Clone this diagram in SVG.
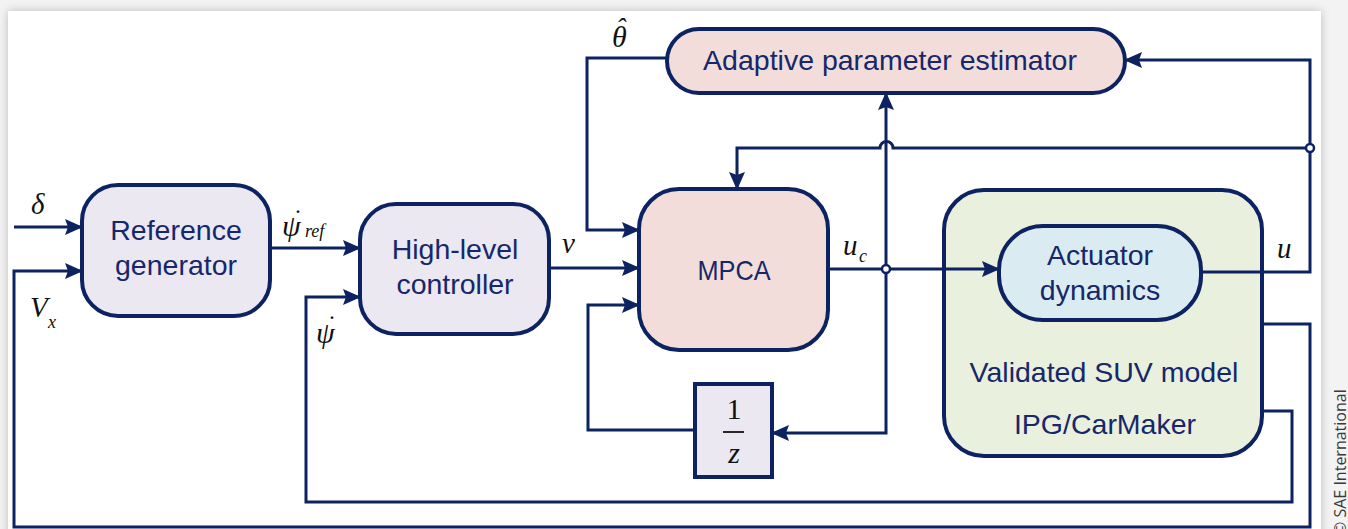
<svg xmlns="http://www.w3.org/2000/svg" width="1348" height="529" viewBox="0 0 1348 529">
<defs>
<filter id="sh" x="-5%" y="-10%" width="110%" height="120%"><feGaussianBlur stdDeviation="5"/></filter>
<marker id="ah" viewBox="0 0 18 16" refX="17" refY="8" markerWidth="18" markerHeight="16" markerUnits="userSpaceOnUse" orient="auto"><path d="M0,0 L18,8 L0,16 L3,8 Z" fill="#0d2261"/></marker>
<style>
.bx{stroke:#0d2261;stroke-width:4}
.ln{fill:none;stroke:#0d2261;stroke-width:3}
.t{font-family:"Liberation Sans",Arial,sans-serif;font-size:28.5px;fill:#16276a;text-anchor:middle}
.m{font-family:"Liberation Serif","Times New Roman",serif;font-style:italic;fill:#111}
.j{fill:#fff;stroke:#0d2261;stroke-width:2.5}
</style>
</defs>
<rect x="0" y="0" width="1348" height="529" fill="#f3f3f3"/>
<rect x="8" y="11" width="1313" height="540" fill="#bbb" filter="url(#sh)"/>
<rect x="8" y="11" width="1313" height="540" fill="#fff"/>
<text transform="translate(1346,529) rotate(-90)" x="-6" y="0" font-family="'Open Sans','Noto Sans',sans-serif" font-size="16" fill="#3a3a3a">© SAE International</text>

<g id="suv">
<rect class="bx" x="944" y="190" width="318" height="266" rx="40" fill="#e9f0de"/>
<text class="t" x="1104" y="382">Validated SUV model</text>
<text class="t" x="1105" y="434">IPG/CarMaker</text>
</g>

<g id="connectors">
<path class="ln" d="M14,227 H82" marker-end="url(#ah)"/>
<path class="ln" d="M1262,324 H1310 V527 H14 V271 H82" marker-end="url(#ah)"/>
<path class="ln" d="M270,248 H360" marker-end="url(#ah)"/>
<path class="ln" d="M1262,411 H1292 V502 H306 V297 H360" marker-end="url(#ah)"/>
<path class="ln" d="M549,268 H639" marker-end="url(#ah)"/>
<path class="ln" d="M667,58 H587 V230 H639" marker-end="url(#ah)"/>
<path class="ln" d="M695,430 H588 V305 H639" marker-end="url(#ah)"/>
<path class="ln" d="M828,269 H999" marker-end="url(#ah)"/>
<path class="ln" d="M886,269 V93" marker-end="url(#ah)"/>
<path class="ln" d="M886,269 V433 H772" marker-end="url(#ah)"/>
<path class="ln" d="M1201,272 H1310 V60 H1125" marker-end="url(#ah)"/>
<path class="ln" d="M1310,148 H893 A6.5,6.5 0 0 0 880,148 H737 V189" marker-end="url(#ah)"/>
<circle class="j" cx="886" cy="269" r="4"/>
<circle class="j" cx="1310" cy="148" r="4"/>
</g>

<g id="reference-generator">
<rect class="bx" x="82" y="185" width="188" height="131" rx="36" fill="#ebe8f2"/>
<text class="t" x="176" y="240">Reference</text>
<text class="t" x="176" y="275">generator</text>
</g>

<g id="high-level-controller">
<rect class="bx" x="360" y="204" width="189" height="130" rx="36" fill="#ebe8f2"/>
<text class="t" x="455" y="259">High-level</text>
<text class="t" x="455" y="294">controller</text>
</g>

<g id="mpca">
<rect class="bx" x="639" y="189" width="189" height="161" rx="40" fill="#f2dddb"/>
<text class="t" x="734" y="280" font-size="32" textLength="73" lengthAdjust="spacingAndGlyphs">MPCA</text>
</g>

<g id="adaptive-estimator">
<rect class="bx" x="667" y="29" width="458" height="64" rx="32" fill="#f2dddb"/>
<text class="t" x="890" y="70">Adaptive parameter estimator</text>
</g>

<g id="actuator">
<rect class="bx" x="999" y="226" width="202" height="94" rx="44" fill="#daecf2"/>
<text class="t" x="1100" y="265">Actuator</text>
<text class="t" x="1100" y="300">dynamics</text>
</g>

<g id="delay">
<rect class="bx" x="695" y="384" width="77" height="93" fill="#ebe8f2"/>
<text x="734" y="419" font-family="'Liberation Serif',serif" font-size="30" fill="#111" text-anchor="middle">1</text>
<line x1="723" y1="432" x2="744" y2="432" stroke="#111" stroke-width="1.8"/>
<text class="m" x="734" y="463" font-size="30" text-anchor="middle">z</text>
</g>

<g id="labels">
<text class="m" x="31" y="214" font-size="29">δ</text>
<text class="m" x="30" y="317" font-size="29">V</text>
<text class="m" x="48" y="328" font-size="18">x</text>
<text class="m" x="282" y="236" font-size="30">ψ</text>
<text class="m" x="292" y="227" font-size="26">˙</text>
<text class="m" x="305" y="237" font-size="18">ref</text>
<text class="m" x="316" y="343" font-size="30">ψ</text>
<text class="m" x="326" y="333" font-size="26">˙</text>
<text class="m" x="562" y="253" font-size="29">v</text>
<text class="m" x="843" y="255" font-size="29">u</text>
<text class="m" x="859" y="262" font-size="18">c</text>
<text class="m" x="1277" y="258" font-size="29">u</text>
<text class="m" x="612" y="47" font-size="30">θ</text>
<text class="m" x="616" y="37" font-size="28">ˆ</text>
</g>
</svg>
